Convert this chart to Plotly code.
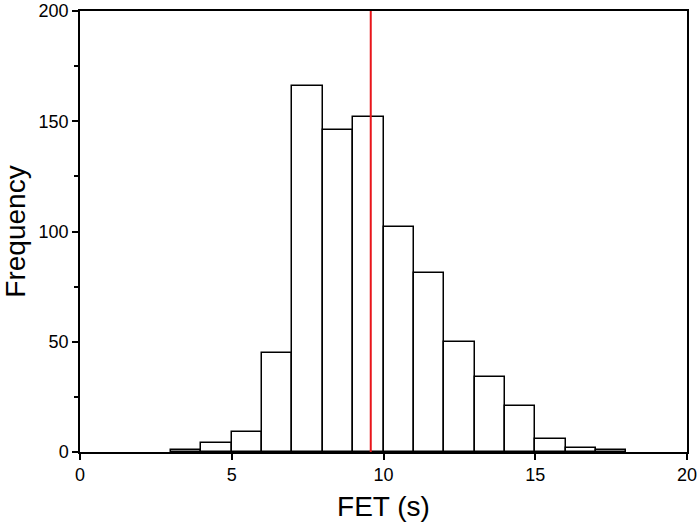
import plotly.graph_objects as go

# Histograma de FET (bins de 1 s)
bin_left = [3, 4, 5, 6, 7, 8, 9, 10, 11, 12, 13, 14, 15, 16, 17]
counts = [1, 4, 9, 45, 166, 146, 152, 102, 81, 50, 34, 21, 6, 2, 1]
mean_fet = 9.58  # línea roja

fig = go.Figure()

fig.add_trace(go.Bar(x=[b + 0.5 for b in bin_left], y=counts, width=1,
                     marker=dict(color='white', line=dict(color='black', width=1.5)),
                     showlegend=False))

fig.add_shape(type='line', x0=mean_fet, x1=mean_fet, y0=0, y1=1, yref='paper',
              line=dict(color='#e8161b', width=2))

axis_font = dict(family='Liberation Sans, Arial', size=18, color='black')

fig.update_layout(width=700, height=527,
                  margin=dict(l=80, r=13, t=11, b=75),
                  plot_bgcolor='white', paper_bgcolor='white',
                  font=dict(family='Liberation Sans, Arial', color='black'),
                  bargap=0)

fig.update_xaxes(range=[0, 20], tickvals=[0, 5, 10, 15, 20], automargin=False,
                 showline=True, linecolor='black', linewidth=1.5, mirror=True,
                 ticks='outside', ticklen=6, tickwidth=1.5, tickcolor='black',
                 showgrid=False, zeroline=False, tickfont=axis_font,
                 title=dict(text='FET (s)', font=dict(size=28), standoff=12))

fig.update_yaxes(range=[0, 200], tickvals=[0, 50, 100, 150, 200], automargin=False,
                 showline=True, linecolor='black', linewidth=1.5, mirror=True,
                 ticks='outside', ticklen=6, tickwidth=1.5, tickcolor='black',
                 minor=dict(tickvals=[25, 75, 125, 175], ticks='outside', ticklen=4,
                            tickwidth=1.5, tickcolor='black'),
                 showgrid=False, zeroline=False, tickfont=axis_font,
                 title=dict(text='Frequency', font=dict(size=28), standoff=10))

# quitar el margen por defecto del body para que la figura empiece en (0, 0)
fig.write_html("out.html", config={'displayModeBar': False},
               post_script="document.body.style.margin='0';")
